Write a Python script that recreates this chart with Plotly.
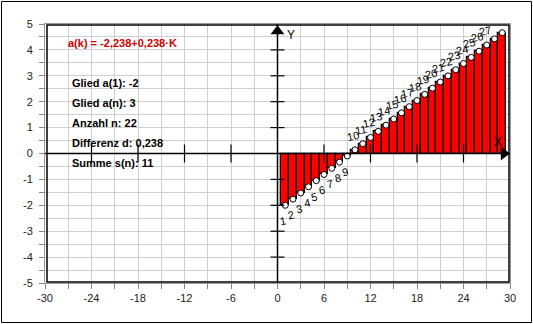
import plotly.graph_objects as go

# ---- data ----
k_values = [1, 2, 3, 4, 5, 6, 7, 8, 9, 10, 11, 12, 13, 14, 15,
            16, 17, 18, 19, 20, 21, 22, 23, 24, 25, 26, 27, 28, 29]
a_values = [-2.000, -1.762, -1.524, -1.286, -1.048, -0.810, -0.572, -0.334,
            -0.096, 0.142, 0.380, 0.618, 0.856, 1.094, 1.332, 1.570, 1.808,
            2.046, 2.284, 2.522, 2.760, 2.998, 3.236, 3.474, 3.712, 3.950,
            4.188, 4.426, 4.664]
label_max_k = 27
x_tick_vals = [-30, -24, -18, -12, -6, 0, 6, 12, 18, 24, 30]
x_tick_text = ["-30", "-24", "-18", "-12", "-6", "0", "6", "12", "18", "24", "30"]
y_tick_vals = [-5, -4, -3, -2, -1, 0, 1, 2, 3, 4, 5]
y_tick_text = ["-5", "-4", "-3", "-2", "-1", "0", "1", "2", "3", "4", "5"]
x_axis_ticks = [-24, -18, -12, -6, 6, 12, 18, 24]
y_axis_ticks = [-4, -3, -2, -1, 1, 2, 3, 4]
title_text = "a(k) = -2,238+0,238·K"
info_lines = ["Glied a(1): -2", "Glied a(n): 3", "Anzahl n: 22",
              "Differenz d: 0,238", "Summe s(n): 11"]

W, H = 533, 324
L, R, T, B = 45, 23, 24, 41
PW, PH = W - L - R, H - T - B
FONT = "Liberation Sans, Arial"

fig = go.Figure()
fig.add_trace(go.Bar(
    x=k_values, y=a_values, width=1,
    marker=dict(color="#ff0000", line=dict(color="black", width=1.3)),
    hoverinfo="skip"))
fig.add_trace(go.Scatter(
    x=k_values, y=a_values, mode="markers",
    marker=dict(symbol="circle", size=6, color="white",
                line=dict(color="black", width=1)),
    hoverinfo="skip"))
# axis arrows
fig.add_trace(go.Scatter(
    x=[0], y=[4.72], mode="markers", cliponaxis=False,
    marker=dict(symbol="triangle-up", size=12, color="black"),
    hoverinfo="skip"))
fig.add_trace(go.Scatter(
    x=[29.2], y=[0], mode="markers", cliponaxis=False,
    marker=dict(symbol="triangle-right", size=12, color="black"),
    hoverinfo="skip"))

shapes = []
shapes.append(dict(type="line", xref="x", yref="y", x0=-30, x1=30, y0=0, y1=0,
                   line=dict(color="black", width=1.5), layer="above"))
shapes.append(dict(type="line", xref="x", yref="y", x0=0, x1=0, y0=-5, y1=5,
                   line=dict(color="black", width=1.5), layer="above"))
for v in x_axis_ticks:
    shapes.append(dict(type="line", xref="x", yref="y", ysizemode="pixel",
                       yanchor=0, x0=v, x1=v, y0=-9, y1=9,
                       line=dict(color="black", width=1.2), layer="above"))
for v in y_axis_ticks:
    shapes.append(dict(type="line", xref="x", yref="y", xsizemode="pixel",
                       xanchor=0, x0=-7, x1=7, y0=v, y1=v,
                       line=dict(color="black", width=1.2), layer="above"))
# plot frame (black inner line)
shapes.append(dict(type="rect", xref="paper", yref="paper",
                   x0=2 / PW, x1=1 - 1 / PW, y0=1 / PH, y1=1 - 1 / PH,
                   line=dict(color="black", width=1.5), layer="above"))
# outer image frame
shapes.append(dict(type="rect", xref="paper", yref="paper",
                   x0=-(L - 1.5) / PW, x1=1 + (R - 1.5) / PW,
                   y0=-(B - 1.5) / PH, y1=1 + (T - 1.5) / PH,
                   line=dict(color="black", width=1), layer="above"))

annotations = []
for k, a in zip(k_values, a_values):
    if k > label_max_k:
        continue
    annotations.append(dict(
        x=k, y=a, xref="x", yref="y", text=str(k), showarrow=False,
        textangle=-12, xshift=-2, yshift=(-16 if a < 0 else 14),
        font=dict(family=FONT, size=11, color="black")))
annotations.append(dict(x=0, y=5, xref="x", yref="y", text="Y", showarrow=False,
                        xshift=13, yshift=-11,
                        font=dict(family=FONT, size=12, color="black")))
annotations.append(dict(x=28.4, y=0, xref="x", yref="y", text="X", showarrow=False,
                        yshift=12, font=dict(family=FONT, size=12, color="black")))
annotations.append(dict(x=(66 - L) / PW, y=1 - (43 - T) / PH, xref="paper", yref="paper",
                        text="<b>" + title_text + "</b>", showarrow=False,
                        xanchor="left", yanchor="middle",
                        font=dict(family=FONT, size=11, color="#cc0000")))
for i, line in enumerate(info_lines):
    annotations.append(dict(x=(70 - L) / PW, y=1 - (83 + 20 * i - T) / PH,
                            xref="paper", yref="paper",
                            text="<b>" + line + "</b>", showarrow=False,
                            xanchor="left", yanchor="middle",
                            font=dict(family=FONT, size=11, color="black")))

fig.update_layout(
    width=W, height=H, margin=dict(l=L, r=R, t=T, b=B, pad=0),
    paper_bgcolor="white", plot_bgcolor="white", showlegend=False,
    bargap=0, shapes=shapes, annotations=annotations,
    font=dict(family=FONT, size=11, color="#222"),
)
fig.update_xaxes(
    range=[-30, 30], tickvals=x_tick_vals, ticktext=x_tick_text,
    ticks="outside", ticklen=5, tickcolor="#888", showgrid=False, zeroline=False,
    showline=True, linecolor="#999", linewidth=1, mirror=True,
    minor=dict(dtick=3, tick0=0, ticks="outside", ticklen=5, tickcolor="#888",
               showgrid=True, gridcolor="#cfcfcf", gridwidth=1),
    tickfont=dict(size=11, color="#222"), fixedrange=True)
fig.update_yaxes(
    range=[-5, 5], tickvals=y_tick_vals, ticktext=y_tick_text,
    ticks="outside", ticklen=5, tickcolor="#888", showgrid=False, zeroline=False,
    showline=True, linecolor="#999", linewidth=1, mirror=True,
    ticklabelstandoff=4,
    minor=dict(dtick=0.5, tick0=0, ticks="outside", ticklen=5, tickcolor="#888",
               showgrid=True, gridcolor="#cfcfcf", gridwidth=1),
    tickfont=dict(size=11, color="#222"), fixedrange=True)

fig.write_html("out.html", config=dict(displayModeBar=False))
